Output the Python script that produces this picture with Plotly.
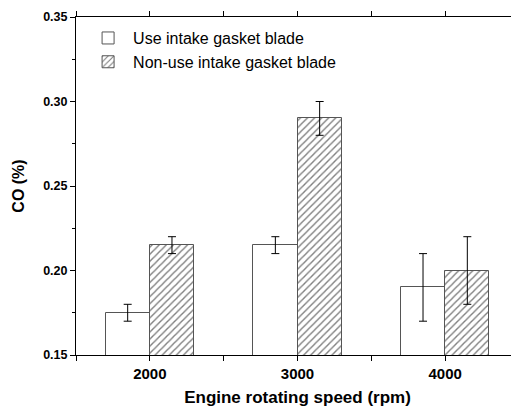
import plotly.graph_objects as go

speeds = [2000, 3000, 4000]
use_vals = [0.175, 0.215, 0.190]
use_err = [0.005, 0.005, 0.020]
nonuse_vals = [0.215, 0.290, 0.200]
nonuse_err = [0.005, 0.010, 0.020]
series_names = ["Use intake gasket blade", "Non-use intake gasket blade"]

FONT = "Liberation Sans, Arial, sans-serif"

fig = go.Figure()
fig.add_trace(go.Bar(
    x=speeds, y=use_vals, name=series_names[0],
    width=300, offset=-300,
    marker=dict(color="white", line=dict(color="#555555", width=1)),
    error_y=dict(type="data", array=use_err, color="black", thickness=1, width=4),
))
fig.add_trace(go.Bar(
    x=speeds, y=nonuse_vals, name=series_names[1],
    width=300, offset=0,
    marker=dict(color="white", line=dict(color="#555555", width=1),
                pattern=dict(shape="/", fgcolor="black", bgcolor="white", size=5, solidity=0.28)),
    error_y=dict(type="data", array=nonuse_err, color="black", thickness=1, width=4),
))

# page body has an 8px default margin, so the figure is sized to fit the window
fig.update_layout(
    width=511, height=409,
    margin=dict(l=68, r=0, t=9, b=62),
    plot_bgcolor="white", paper_bgcolor="white",
    font=dict(family=FONT, color="black"),
    showlegend=True,
    legend=dict(x=0.016, y=0.988, xanchor="left", yanchor="top",
                font=dict(size=16, family=FONT), bgcolor="rgba(0,0,0,0)",
                tracegroupgap=0, itemwidth=40),
    bargap=0,
)
fig.update_xaxes(
    range=[1500, 4500], tickmode="array", tickvals=speeds, ticktext=[str(s) for s in speeds],
    showline=True, linecolor="black", linewidth=1, mirror="ticks",
    ticks="outside", ticklen=5, tickcolor="black",
    minor=dict(dtick=500, tick0=1500, ticks="outside", ticklen=5, tickcolor="black", showgrid=False),
    showgrid=False, zeroline=False, automargin=False,
    tickfont=dict(size=15, family=FONT, weight="bold"),
    title=dict(text="<b>Engine rotating speed (rpm)</b>", font=dict(size=17, family=FONT), standoff=10),
)
fig.update_yaxes(
    range=[0.15, 0.35], dtick=0.05, tickformat=".2f",
    showline=True, linecolor="black", linewidth=1, mirror=False,
    ticks="outside", ticklen=5, tickcolor="black",
    minor=dict(dtick=0.025, ticks="outside", ticklen=3, tickcolor="black", showgrid=False),
    showgrid=False, zeroline=False, automargin=False, ticklabeloverflow="allow",
    tickfont=dict(size=12.5, family=FONT, weight="bold"),
    title=dict(text="<b>CO (%)</b>", font=dict(size=16, family=FONT), standoff=14),
)

fig.write_html("out.html")
